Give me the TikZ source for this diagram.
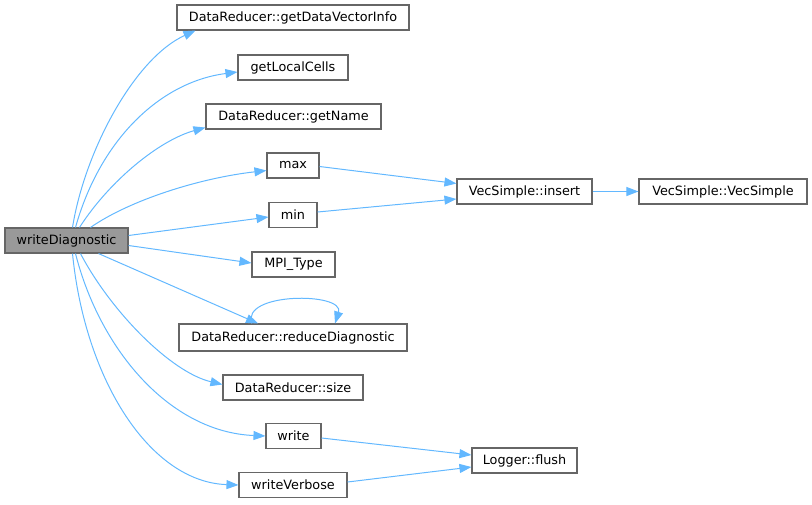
\documentclass[tikz,border=0pt]{standalone}
\usepackage{fontspec}
\setmainfont{DejaVu Sans}
\usetikzlibrary{arrows.meta,calc}
\definecolor{edgeblue}{HTML}{63B8FF}
\definecolor{boxborder}{HTML}{666666}
\definecolor{rootfill}{HTML}{999999}
\tikzset{
  box/.style={draw=boxborder, line width=1.1pt, fill=white, minimum height=25pt, inner sep=0pt, font=\fontsize{12.8}{15}\selectfont},
  rootbox/.style={box, fill=rootfill},
  edge/.style={draw=edgeblue, line width=1pt, -{Triangle[length=12pt,width=9pt]}},
}
\begin{document}
\begin{tikzpicture}[x=1pt,y=-1pt]
\useasboundingbox (0,0) rectangle (812,504);
\node[rootbox, minimum width=123pt] (wd) at (66.5,240.5) {writeDiagnostic};
\node[box, minimum width=232pt] (gdvi) at (293,17.5) {DataReducer::getDataVectorInfo};
\node[box, minimum width=110pt] (glc) at (293,67.5) {getLocalCells};
\node[box, minimum width=175pt] (gn) at (293.5,116.5) {DataReducer::getName};
\node[box, minimum width=52pt] (max) at (293,165.5) {max};
\node[box, minimum width=48pt] (min) at (293,215) {min};
\node[box, minimum width=83pt] (mpi) at (293.5,264.5) {MPI\_Type};
\node[box, minimum width=228pt, minimum height=27pt] (rd) at (293,337.5) {DataReducer::reduceDiagnostic};
\node[box, minimum width=140pt] (size) at (293,387.5) {DataReducer::size};
\node[box, minimum width=55pt] (write) at (293.5,436) {write};
\node[box, minimum width=108pt] (wv) at (293,485) {writeVerbose};
\node[box, minimum width=135pt] (ins) at (524.5,191.5) {VecSimple::insert};
\node[box, minimum width=168pt] (vs) at (723,191.5) {VecSimple::VecSimple};
\node[box, minimum width=105pt] (fl) at (524.5,460.5) {Logger::flush};

\draw[edge] ($(wd.north)+(6,0)$) .. controls (85,150) and (135,58) .. ($(gdvi.south west)+(19,0)$);
\draw[edge] ($(wd.north)+(9,0)$) .. controls (100,140) and (160,82) .. ($(glc.west)+(0,4.5)$);
\draw[edge] ($(wd.north)+(13,0)$) .. controls (110,180) and (160,140) .. ($(gn.south west)+(0,-2)$);
\draw[edge] ($(wd.north)+(24,0)$) .. controls (130,200) and (200,178) .. ($(max.west)+(0,5)$);
\draw[edge] ($(wd.east)+(0,-5)$) -- ($(min.west)+(0,2)$);
\draw[edge] ($(wd.east)+(0,5)$) -- ($(mpi.west)+(0,-1.5)$);
\draw[edge] ($(wd.south)+(32,0)$) -- ($(rd.north)+(-35,0)$);
\draw[edge] ($(wd.south)+(14,0)$) .. controls (110,310) and (170,372) .. ($(size.west)+(0,-3)$);
\draw[edge] ($(wd.south)+(9,0)$) .. controls (100,350) and (170,432) .. (write.west);
\draw[edge] ($(wd.south)+(6,0)$) .. controls (85,380) and (150,482) .. (wv.west);
\draw[edge] ($(rd.north)+(-41,0)$) .. controls (240,292) and (345,292) .. ($(rd.north)+(42,0)$);
\draw[edge] ($(max.east)+(0,1)$) -- ($(ins.west)+(0,-8)$);
\draw[edge] ($(min.east)+(0,-3)$) -- ($(ins.west)+(0,7.5)$);
\draw[edge] (ins.east) -- (vs.west);
\draw[edge] ($(write.east)+(0,2)$) -- ($(fl.west)+(0,-5.5)$);
\draw[edge] ($(wv.east)+(0,-3)$) -- ($(fl.west)+(0,6.5)$);
\end{tikzpicture}
\end{document}
